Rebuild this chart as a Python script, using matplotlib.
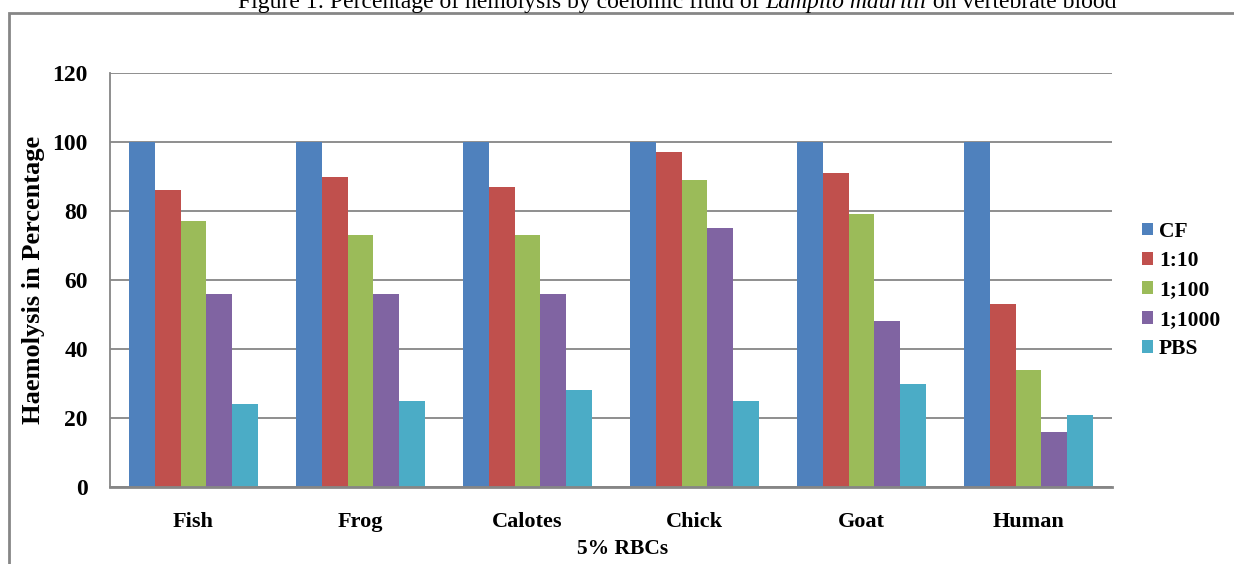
import matplotlib
matplotlib.use("Agg")
import matplotlib.pyplot as plt
import numpy as np
from matplotlib.patches import Rectangle

categories = ["Fish", "Frog", "Calotes", "Chick", "Goat", "Human"]
series_names = ["CF", "1:10", "1;100", "1;1000", "PBS"]
cf = [100, 100, 100, 100, 100, 100]
d10 = [86, 90, 87, 97, 91, 53]
d100 = [77, 73, 73, 89, 79, 34]
d1000 = [56, 56, 56, 75, 48, 16]
pbs = [24, 25, 28, 25, 30, 21]
yticks = [0, 20, 40, 60, 80, 100, 120]

colors = ["#4F81BD", "#C0504D", "#9BBB59", "#8064A2", "#4BACC6"]
series = [cf, d10, d100, d1000, pbs]

plt.rcParams['font.family'] = ['Liberation Serif', 'DejaVu Serif']

fig = plt.figure(figsize=(12.34, 5.64), dpi=100)
ax = fig.add_axes([110/1234, 1-487/564, (1112-110)/1234, (487-73)/564])

x = np.arange(len(categories))
bw = 0.155
for i, (vals, c, name) in enumerate(zip(series, colors, series_names)):
    ax.bar(x + (i - 2) * bw, vals, width=bw, color=c, label=name, zorder=3)

ax.set_xlim(-0.5, len(categories) - 0.5)
ax.set_ylim(0, 120)
ax.set_yticks(yticks)
ax.set_yticklabels([str(t) for t in yticks], fontsize=17, fontweight='bold')
ax.set_xticks(x)
ax.set_xticklabels(categories, fontsize=16, fontweight='bold')
ax.tick_params(axis='y', length=0, pad=16)
ax.tick_params(axis='x', length=0, pad=18)
ax.yaxis.grid(True, color='#868686', linewidth=1.3, zorder=0)
for s in ['right', 'top']:
    ax.spines[s].set_visible(False)
ax.spines['left'].set_color('#868686')
ax.spines['left'].set_linewidth(1.3)
ax.spines['bottom'].set_color('#868686')
ax.spines['bottom'].set_linewidth(2)
ax.spines['bottom'].set_zorder(4)

ax.set_ylabel("Haemolysis in Percentage", fontsize=19, fontweight='bold', labelpad=5)
fig.text(623/1234, 1-549/564, "5% RBCs", fontsize=15.5, fontweight='bold', ha='center', va='center')

leg = ax.legend(loc='upper left', frameon=False,
                prop={'size': 15.5, 'weight': 'bold'}, handlelength=0.55, handleheight=0.55,
                handletextpad=0.25, labelspacing=0.44, borderaxespad=0)
leg.set_bbox_to_anchor((1133/1234, 1-213/564), transform=fig.transFigure)

# title, partially cut off at top
fig.canvas.draw()
renderer = fig.canvas.get_renderer()
pieces = [("Figure 1: Percentage of hemolysis by coelomic fluid of ", 'normal'),
          ("Lampito mauritii", 'italic'),
          (" on vertebrate blood", 'normal')]
texts = []
total = 0
for s, st in pieces:
    t = fig.text(0, 1-8/564, s, fontsize=17, style=st, ha='left', va='baseline')
    w = t.get_window_extent(renderer).width
    texts.append((t, w))
    total += w
xpix = 677 - total / 2
for t, w in texts:
    t.set_x(xpix / 1234)
    xpix += w

fig.patches.append(Rectangle((9/1234, -0.1), 1.2, 1-13/564 + 0.1, transform=fig.transFigure,
                             fill=False, edgecolor='#868686', linewidth=2))

fig.savefig("out.png", dpi=100)
